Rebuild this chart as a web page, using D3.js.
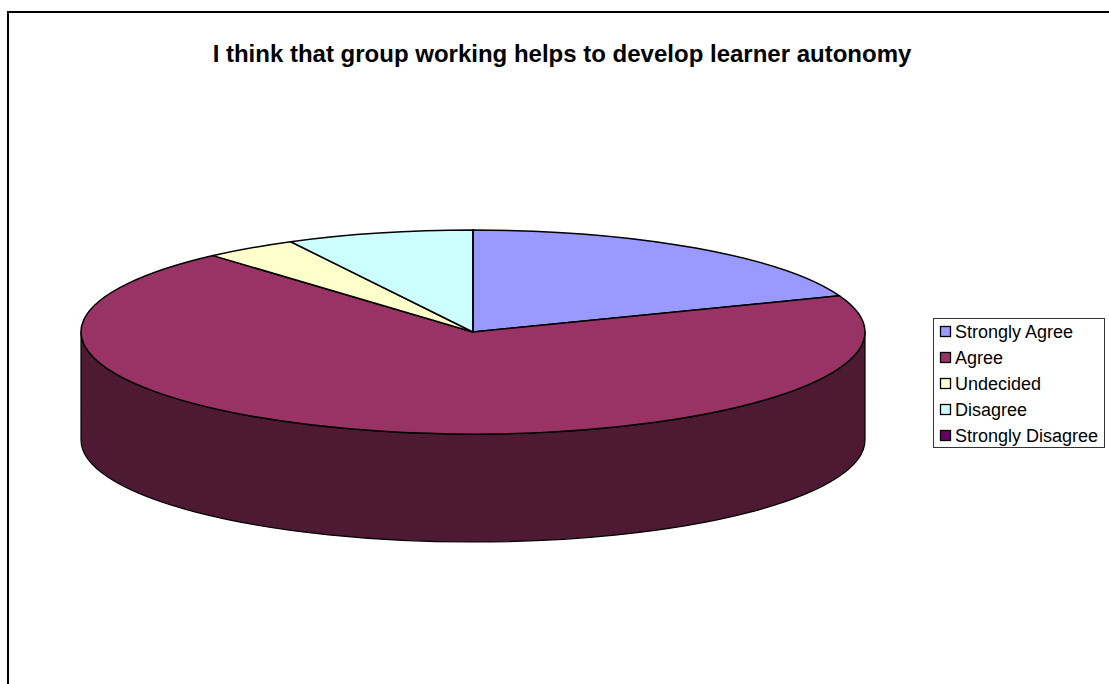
<!DOCTYPE html>
<html>
<head>
<meta charset="utf-8">
<script src="https://cdn.jsdelivr.net/npm/d3@7"></script>
<style>
  html, body { margin: 0; padding: 0; background: #fff; }
  svg { display: block; }
  text { font-family: "Liberation Sans", Arial, sans-serif; fill: #000; }
</style>
</head>
<body>
<div id="chart"></div>
<script>
// Survey responses (counts out of 26)
const chartTitle = "I think that group working helps to develop learner autonomy";
const categories = ["Strongly Agree", "Agree", "Undecided", "Disagree", "Strongly Disagree"];
const responses = [5, 18, 1, 2, 0];
const topColors = ["#9999ff", "#993366", "#ffffcc", "#ccffff", "#660066"];
const sideColors = ["#4d4d80", "#4d1933", "#808066", "#668080", "#330033"];

const width = 1109, height = 684;
const cx = 473, cy = 332, rx = 392, ry = 102, depth = 108;

const svg = d3.select("#chart").append("svg")
  .attr("width", width).attr("height", height);

// Chart frame runs off the right and bottom of the page
svg.append("path")
  .attr("d", d3.line()([[8, height + 2], [8, 12], [width + 2, 12]]))
  .attr("fill", "none").attr("stroke", "#000").attr("stroke-width", 2);

svg.append("text")
  .attr("x", 562).attr("y", 62)
  .attr("text-anchor", "middle")
  .attr("font-size", 24).attr("font-weight", "bold")
  .text(chartTitle);

// Slices start at twelve o'clock and run clockwise
const pie = d3.pie().sort(null).value(d => d)(responses);
const tiltX = d3.scaleLinear().domain([-1, 1]).range([cx - rx, cx + rx]);
const tiltY = d3.scaleLinear().domain([-1, 1]).range([cy - ry, cy + ry]);
const px = a => tiltX(Math.sin(a));
const py = a => tiltY(-Math.cos(a));

// Only the part of the rim between 3 and 9 o'clock faces the viewer
const rim = svg.append("g");
pie.forEach((s, i) => {
  const a0 = Math.max(s.startAngle, Math.PI / 2);
  const a1 = Math.min(s.endAngle, 3 * Math.PI / 2);
  if (a1 <= a0) return;
  const large = a1 - a0 > Math.PI ? 1 : 0;
  const d = `M${px(a0)},${py(a0)}` +
    `A${rx},${ry} 0 ${large} 1 ${px(a1)},${py(a1)}` +
    `L${px(a1)},${py(a1) + depth}` +
    `A${rx},${ry} 0 ${large} 0 ${px(a0)},${py(a0) + depth}Z`;
  rim.append("path").attr("d", d)
    .attr("fill", sideColors[i])
    .attr("stroke", "#000").attr("stroke-width", 1.2);
});

// Top face: a unit pie squashed into an ellipse, outline width kept constant
const arc = d3.arc().innerRadius(0).outerRadius(1);
svg.append("g")
  .attr("transform", `translate(${cx},${cy}) scale(${rx},${ry})`)
  .selectAll("path").data(pie).join("path")
  .attr("d", arc)
  .attr("fill", (d, i) => topColors[i])
  .attr("stroke", "#000").attr("stroke-width", 1.5)
  .attr("stroke-linejoin", "round")
  .attr("vector-effect", "non-scaling-stroke");

// Legend
const legend = svg.append("g");
legend.append("rect")
  .attr("x", 933.5).attr("y", 318.5).attr("width", 171).attr("height", 129)
  .attr("fill", "#fff").attr("stroke", "#333").attr("stroke-width", 1);

const rowY = d3.scalePoint().domain(categories).range([332, 436]);
const rows = legend.selectAll("g").data(categories).join("g")
  .attr("transform", d => `translate(0,${rowY(d)})`);
rows.append("rect")
  .attr("x", 940.5).attr("y", -5.5).attr("width", 10).attr("height", 10)
  .attr("fill", (d, i) => topColors[i])
  .attr("stroke", "#000").attr("stroke-width", 1.3);
rows.append("text")
  .attr("x", 955).attr("y", 6)
  .attr("font-size", 18)
  .text(d => d);
</script>
</body>
</html>
